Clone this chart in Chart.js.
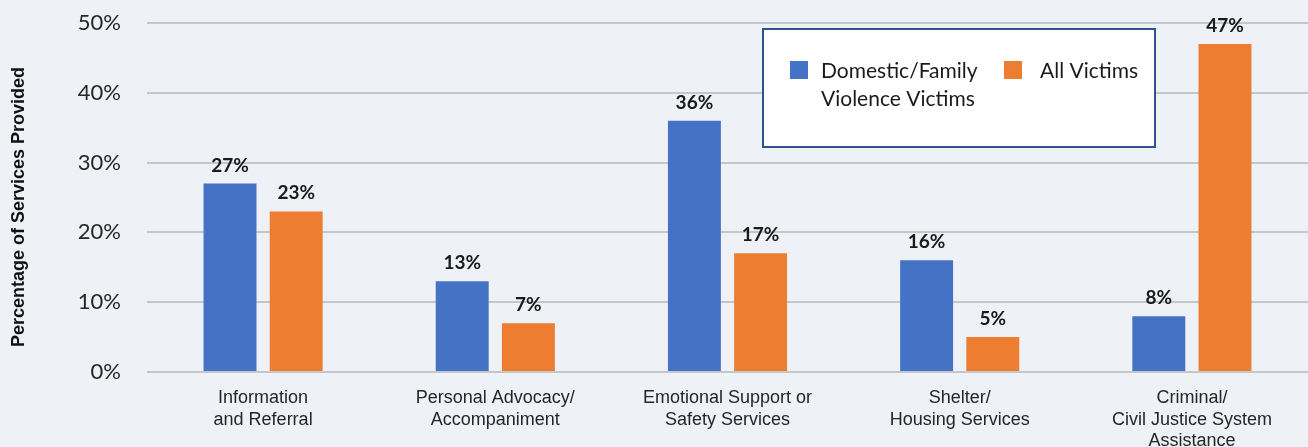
<!DOCTYPE html>
<html>
<head>
<meta charset="utf-8">
<script src="https://cdn.jsdelivr.net/npm/chart.js@4/dist/chart.umd.min.js"></script>
<style>
  html,body{margin:0;padding:0;background:#eef1f5;}
  #wrap{width:1308px;height:447px;position:relative;}
</style>
</head>
<body>
<div id="wrap"><canvas id="c" width="1308" height="447"></canvas></div>
<script>
const categories = [
  ["Information", "and Referral"],
  ["Personal Advocacy/", "Accompaniment"],
  ["Emotional Support or", "Safety Services"],
  ["Shelter/", "Housing Services"],
  ["Criminal/", "Civil Justice System", "Assistance"]
];
const seriesNames = [["Domestic/Family", "Violence Victims"], ["All Victims"]];
const domesticValues = [27, 13, 36, 16, 8];
const allVictimValues = [23, 7, 17, 5, 47];
const yTicks = [0, 10, 20, 30, 40, 50];
const yTitle = "Percentage of Services Provided";

const BLUE = "#4472c4", ORANGE = "#ed7d31";

const bgPlugin = {
  id: "bg",
  beforeDraw(chart) {
    const ctx = chart.ctx;
    ctx.save();
    ctx.fillStyle = "#eef1f5";
    ctx.fillRect(0, 0, chart.width, chart.height);
    ctx.restore();
  }
};

const labelPlugin = {
  id: "vals",
  afterDatasetsDraw(chart) {
    const ctx = chart.ctx;
    ctx.save();
    ctx.font = "bold 19px Lato, 'Open Sans', sans-serif";
    ctx.fillStyle = "#1a1a1a";
    ctx.textAlign = "center";
    ctx.textBaseline = "alphabetic";
    chart.data.datasets.forEach((ds, di) => {
      const meta = chart.getDatasetMeta(di);
      meta.data.forEach((bar, i) => {
        ctx.fillText(ds.data[i] + "%", bar.x, bar.y - 12);
      });
    });
    // y-axis title
    ctx.translate(19, 207);
    ctx.rotate(-Math.PI / 2);
    ctx.font = "bold 18px 'Liberation Sans', Arial, sans-serif";
    ctx.fillStyle = "#111111";
    ctx.textBaseline = "middle";
    ctx.fillText(yTitle, 0, 0);
    ctx.restore();
  }
};

const legendPlugin = {
  id: "boxLegend",
  afterDraw(chart) {
    const ctx = chart.ctx;
    ctx.save();
    ctx.fillStyle = "#ffffff";
    ctx.fillRect(763, 29, 392, 118);
    ctx.strokeStyle = "#2f528f";
    ctx.lineWidth = 2;
    ctx.strokeRect(763, 29, 392, 118);
    ctx.font = "21px Lato, 'Open Sans', sans-serif";
    ctx.textBaseline = "middle";
    ctx.textAlign = "left";
    const entries = [
      {sx: 790, tx: 821},
      {sx: 1004, tx: 1040}
    ];
    chart.data.datasets.forEach((ds, di) => {
      const e = entries[di];
      ctx.fillStyle = ds.backgroundColor;
      ctx.fillRect(e.sx, 61, 18, 18);
      ctx.fillStyle = "#1a1a1a";
      const lines = Array.isArray(ds.label) ? ds.label : [ds.label];
      lines.forEach((ln, li) => ctx.fillText(ln, e.tx, 71 + li * 28));
    });
    ctx.restore();
  }
};

new Chart(document.getElementById("c"), {
  type: "bar",
  data: {
    labels: categories,
    datasets: [
      { label: seriesNames[0], data: domesticValues, backgroundColor: BLUE,
        categoryPercentage: 0.57, barPercentage: 0.8 },
      { label: seriesNames[1], data: allVictimValues, backgroundColor: ORANGE,
        categoryPercentage: 0.57, barPercentage: 0.8 }
    ]
  },
  options: {
    responsive: false,
    animation: false,
    layout: { padding: { top: 23, right: 0, left: 0, bottom: 0 } },
    plugins: { legend: { display: false }, tooltip: { enabled: false } },
    scales: {
      x: {
        grid: { display: false, drawTicks: false },
        border: { display: false },
        ticks: {
          color: "#262626",
          font: { family: "'Liberation Sans', Arial, sans-serif", size: 18, lineHeight: 1.17 },
          padding: 16,
          maxRotation: 0,
          autoSkip: false
        },
        afterFit(scale) { scale.height = 75; scale.paddingLeft = 0; scale.paddingRight = 0; }
      },
      y: {
        min: 0, max: 50,
        afterBuildTicks(scale) { scale.ticks = yTicks.map(v => ({ value: v })); },
        grid: { color: "#c4c6c9", lineWidth: 2, drawTicks: false },
        border: { display: false },
        ticks: {
          color: "#262626",
          font: { family: "Lato, 'Open Sans', sans-serif", size: 22 },
          padding: 26,
          callback: v => v + "%"
        },
        afterFit(scale) { scale.width = 147; scale.paddingTop = 0; scale.paddingBottom = 0; }
      }
    }
  },
  plugins: [bgPlugin, labelPlugin, legendPlugin]
});
</script>
</body>
</html>
